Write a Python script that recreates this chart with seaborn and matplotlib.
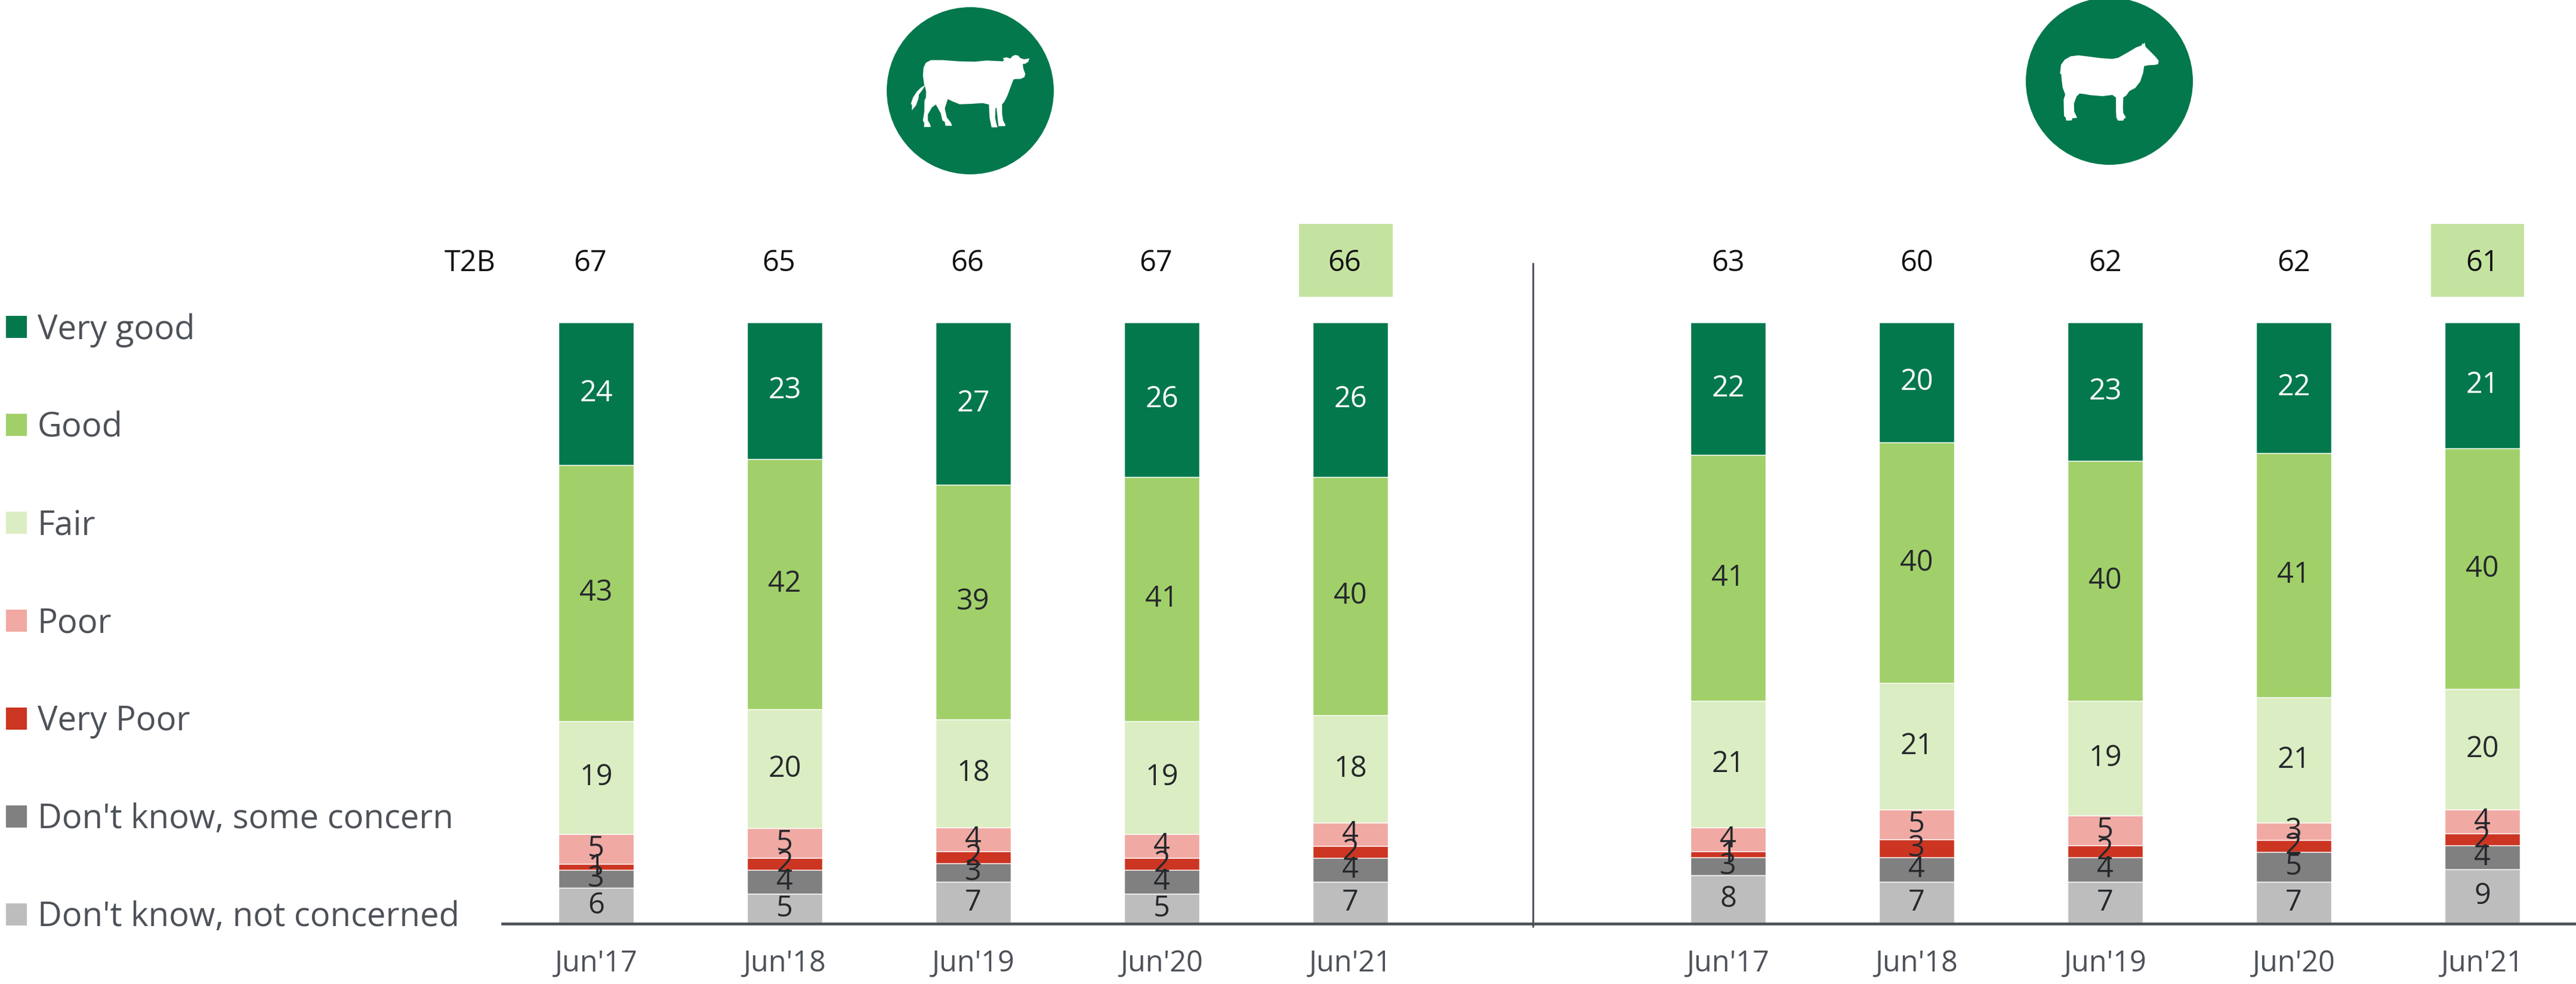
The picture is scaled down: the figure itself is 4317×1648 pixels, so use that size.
import matplotlib
matplotlib.use("Agg")
import matplotlib.pyplot as plt
from matplotlib.patches import Circle, Patch, Polygon, Rectangle
import numpy as np
import seaborn as sns

periods = ["Jun'17", "Jun'18", "Jun'19", "Jun'20", "Jun'21"]
ratings = ["Very good", "Good", "Fair", "Poor", "Very Poor",
           "Don't know, some concern", "Don't know, not concerned"]
colors = ["#03784C", "#A1D06A", "#DBEDC2", "#F0A9A3", "#CC3522", "#808080", "#BDBDBD"]
label_colors = ["white", "#25282C", "#25282C", "#25282C", "#25282C", "#25282C", "#25282C"]

cattle_very_good = [24, 23, 27, 26, 26]
cattle_good = [43, 42, 39, 41, 40]
cattle_fair = [19, 20, 18, 19, 18]
cattle_poor = [5, 5, 4, 4, 4]
cattle_very_poor = [1, 2, 2, 2, 2]
cattle_dk_some = [3, 4, 3, 4, 4]
cattle_dk_none = [6, 5, 7, 5, 7]
cattle_t2b = [67, 65, 66, 67, 66]

sheep_very_good = [22, 20, 23, 22, 21]
sheep_good = [41, 40, 40, 41, 40]
sheep_fair = [21, 21, 19, 21, 20]
sheep_poor = [4, 5, 5, 3, 4]
sheep_very_poor = [1, 3, 2, 2, 2]
sheep_dk_some = [3, 4, 4, 5, 4]
sheep_dk_none = [8, 7, 7, 7, 9]
sheep_t2b = [63, 60, 62, 62, 61]

cattle_rows = [cattle_very_good, cattle_good, cattle_fair, cattle_poor,
               cattle_very_poor, cattle_dk_some, cattle_dk_none]
sheep_rows = [sheep_very_good, sheep_good, sheep_fair, sheep_poor,
              sheep_very_poor, sheep_dk_some, sheep_dk_none]

# Silhouette outlines, in the pixel frame of the overlay axes.
COW = np.array([(447,430),(440,380),(443,340),(455,315),(480,302),(540,302),(620,308),(700,310),
    (760,304),(840,308),(848,303),(842,292),(860,288),(880,294),(890,282),(905,276),(920,280),
    (930,292),(950,298),(975,293),(970,310),(955,320),(942,322),(945,345),(955,372),(950,388),
    (930,397),(905,397),(895,400),(880,440),(865,480),(850,510),(838,525),(838,570),(843,605),
    (855,628),(852,634),(820,634),(815,590),(810,540),(805,545),(803,590),(808,615),(815,640),
    (785,640),(780,615),(775,590),(772,525),(740,518),(680,522),(625,524),(590,510),(565,498),
    (550,545),(560,590),(580,615),(587,632),(553,632),(550,612),(538,605),(530,570),(505,525),
    (485,540),(465,575),(465,605),(475,622),(480,638),(445,638),(447,620),(440,605),(447,560),
    (448,505),(455,490),(456,460),(450,432),(435,455),(420,475),(418,495),(405,530),(392,545),
    (385,555),(385,530),(380,520),(390,490),(410,460),(430,440)]) / 3 + (1400, 0)
SHEEP = np.array([(457,370),(462,325),(480,300),(510,283),(550,278),(600,284),(660,292),(720,296),
    (750,290),(800,262),(840,238),(868,228),(870,218),(876,222),(882,213),(887,235),(910,258),
    (935,283),(953,305),(950,322),(935,326),(900,328),(880,332),(875,365),(860,410),(835,442),
    (805,458),(790,480),(775,490),(773,540),(775,568),(788,590),(778,598),(775,606),(748,606),
    (740,590),(738,550),(738,490),(720,477),(670,483),(610,478),(575,472),(555,470),(540,485),
    (527,520),(528,560),(543,592),(520,594),(515,605),(488,606),(485,590),(477,583),(475,500),
    (483,475),(470,440),(465,400),(463,372)]) / 3 + (3300, 0)

sns.set_theme(style="white")
plt.rcParams["font.family"] = ["Open Sans", "DejaVu Sans"]

W, H = 4317, 1648
TOP, BASE, DIVIDER, LEFT = 540, 1547, 2569, 842
TEXT = "#4D5158"
NUM_SIZE = 35
LEGEND_SIZE = 40.5


def panel(x0, x1, xlim, rows, t2b, t2b_shift):
    ax = fig.add_axes([x0 / W, 1 - BASE / H, (x1 - x0) / W, (BASE - TOP) / H])
    table = np.array(rows, dtype=float)
    shares = table / table.sum(axis=0) * 100
    # Stack from the top rating downwards so that the bars fill to 100.
    tops = 100 - np.vstack([np.zeros(5), np.cumsum(shares, axis=0)[:-1]])
    for row, share, top, color, lc in zip(rows, shares, tops, colors, label_colors):
        sns.barplot(x=periods, y=share, bottom=top - share, color=color, width=0.4,
                    saturation=1, errorbar=None, ax=ax)
        ax.bar_label(ax.containers[-1], labels=[str(v) for v in row], label_type="center",
                     color=lc, fontsize=NUM_SIZE)
    ax.set_xlim(*xlim)
    ax.set_ylim(0, 100)
    ax.set_xlabel("")
    ax.set_ylabel("")
    ax.set_yticks([])
    ax.tick_params(axis="x", length=0, pad=30, labelsize=NUM_SIZE, labelcolor=TEXT)
    sns.despine(ax=ax, left=True)
    ax.spines["bottom"].set_color(TEXT)
    ax.spines["bottom"].set_linewidth(3.4)
    trans = ax.get_xaxis_transform()
    ax.add_patch(Rectangle((4 - 0.273, 1.0426), 0.496, 0.1212, transform=trans,
                           facecolor="#C5E3A0", edgecolor="none", clip_on=False))
    for i, v in enumerate(t2b):
        ax.text(i + t2b_shift, 1.098, str(v), transform=trans, ha="center", va="center",
                fontsize=NUM_SIZE, color="#111111")
    return ax


fig = plt.figure(figsize=(W / 100, H / 100), dpi=100, facecolor="white")

left = panel(LEFT, DIVIDER, (-0.497, 4.968), cattle_rows, cattle_t2b, -0.03)
right = panel(DIVIDER, W, (-1.035, 4.497), sheep_rows, sheep_t2b, 0.0)
left.text(-0.67, 1.098, "T2B", transform=left.get_xaxis_transform(), ha="center", va="center",
          fontsize=NUM_SIZE, color="#111111")

# Overlay in pixel units for the divider and the animal badges.
overlay = fig.add_axes([0, 0, 1, 1], zorder=5)
overlay.set_xlim(0, W)
overlay.set_ylim(H, 0)
overlay.axis("off")
overlay.plot([DIVIDER, DIVIDER], [440, 1553], color=TEXT, lw=2.2, solid_capstyle="butt")
for center, outline in (((1626, 152), COW), ((3535, 136), SHEEP)):
    overlay.add_patch(Circle(center, 140, facecolor="#03784C", edgecolor="none"))
    overlay.add_patch(Polygon(outline, closed=True, facecolor="white", edgecolor="none"))

handles = [Patch(facecolor=c, edgecolor="none") for c in colors]
FONT_PX = LEGEND_SIZE * 100 / 72
fig.legend(handles, ratings, loc="upper left", bbox_to_anchor=(10 / W, 1 - 524 / H),
           frameon=False, fontsize=LEGEND_SIZE, labelcolor=TEXT, ncol=1,
           handlelength=35 / FONT_PX, handleheight=36 / FONT_PX, handletextpad=18 / FONT_PX,
           labelspacing=(164.3 - 1.02 * FONT_PX) / FONT_PX, borderpad=0, borderaxespad=0)

fig.savefig("out.png", dpi=100, facecolor="white")
